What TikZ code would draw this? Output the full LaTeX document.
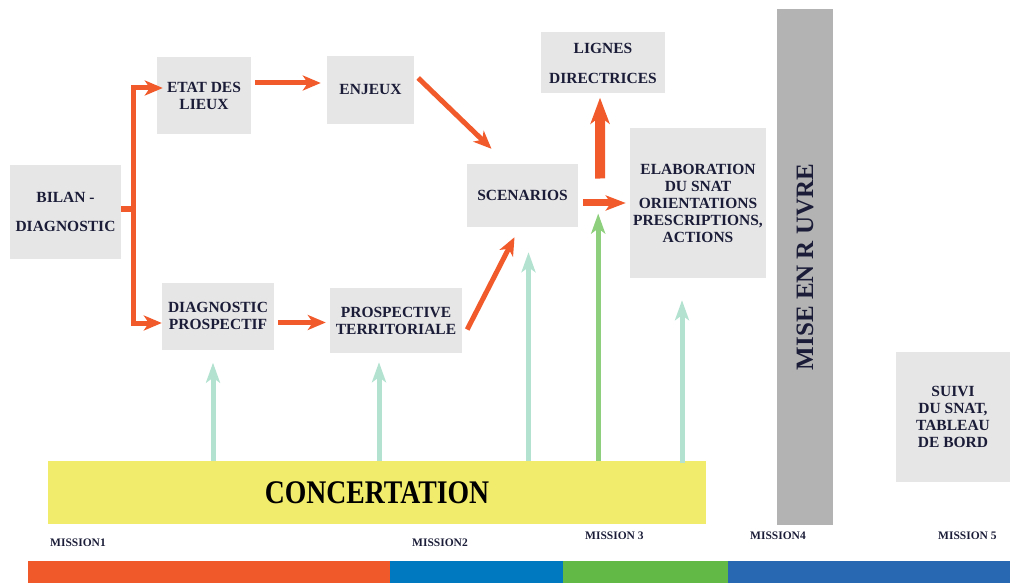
\documentclass[tikz,border=0pt]{standalone}
\usepackage{fontspec}
\setmainfont{Liberation Serif}
\newfontfamily\narrowserif[FakeStretch=0.84]{Liberation Serif}
\usetikzlibrary{arrows.meta}

\definecolor{boxgray}{HTML}{E6E6E6}
\definecolor{bargray}{HTML}{B3B3B3}
\definecolor{inkblue}{HTML}{1B1D38}
\definecolor{flow}{HTML}{F15A2B}
\definecolor{paleflow}{HTML}{B3E2D1}
\definecolor{greenflow}{HTML}{8ECF7D}
\definecolor{concyellow}{HTML}{F1EC6B}
\definecolor{bandorange}{HTML}{F05A2A}
\definecolor{bandblue}{HTML}{0079C1}
\definecolor{bandgreen}{HTML}{62B946}
\definecolor{banddark}{HTML}{2867B2}

\tikzset{
  stagebox/.style={fill=boxgray, inner sep=0pt, align=center, text=inkblue,
    font=\fontsize{15.5}{17}\selectfont\bfseries},
  flowline/.style={draw=flow, line width=5pt},
  flowarrow/.style={flowline, -{Stealth[length=18pt,width=15pt,inset=5pt]}},
  bigarrow/.style={draw=flow, line width=10pt, -{Stealth[length=26pt,width=19pt,inset=7pt]}},
  midarrow/.style={draw=flow, line width=7pt, -{Stealth[length=20pt,width=15pt,inset=5pt]}},
  palearrow/.style={draw=paleflow, line width=5pt, -{Stealth[length=20pt,width=14pt,inset=5pt]}},
  greenarrow/.style={draw=greenflow, line width=5pt, -{Stealth[length=20pt,width=14pt,inset=5pt]}},
  missionlabel/.style={anchor=west, inner sep=0pt, text=inkblue,
    font=\fontsize{11.5}{12}\selectfont\bfseries}
}

\begin{document}
\begin{tikzpicture}[x=1pt, y=-1pt]
\useasboundingbox (0,0) rectangle (1010,583);

% stage boxes
\node[stagebox, minimum width=111pt, minimum height=94pt] (bilan) at (65.5,212) {BILAN -\\[12pt]DIAGNOSTIC};
\node[stagebox, minimum width=94pt, minimum height=77pt] (etat) at (204,95.5) {ETAT DES\\LIEUX};
\node[stagebox, minimum width=87pt, minimum height=68pt] (enjeux) at (370.5,90) {ENJEUX};
\node[stagebox, minimum width=112pt, minimum height=67pt] (diag) at (218,316) {DIAGNOSTIC\\PROSPECTIF};
\node[stagebox, minimum width=132pt, minimum height=65pt] (pterr) at (396,320.5) {PROSPECTIVE\\TERRITORIALE};
\node[stagebox, minimum width=111pt, minimum height=63pt] (scen) at (522.5,195.5) {SCENARIOS};
\node[stagebox, minimum width=124pt, minimum height=61pt] (lignes) at (603,63) {LIGNES\\[13pt]DIRECTRICES};
\node[stagebox, minimum width=136pt, minimum height=150pt] (elab) at (698,203)
  {ELABORATION\\DU SNAT\\ORIENTATIONS\\PRESCRIPTIONS,\\ACTIONS};
\node[stagebox, minimum width=114pt, minimum height=130pt] (suivi) at (953,417)
  {SUIVI\\DU SNAT,\\TABLEAU\\DE BORD};

% implementation bar
\node[fill=bargray, rotate=90, minimum width=516pt, minimum height=56pt, inner sep=0pt,
  text=inkblue, font=\fontsize{25}{25}\selectfont\bfseries] (mise) at (805,267) {MISE EN R UVRE};

% consultation band
\node[fill=concyellow, minimum width=658pt, minimum height=63pt, inner sep=0pt,
  font=\narrowserif\fontsize{33}{33}\selectfont\bfseries] (conc) at (377,492.5) {CONCERTATION};

% mission labels
\node[missionlabel] (m1) at (50,543) {MISSION1};
\node[missionlabel] (m2) at (412,543) {MISSION2};
\node[missionlabel] (m3) at (585,536) {MISSION 3};
\node[missionlabel] (m4) at (750,536) {MISSION4};
\node[missionlabel] (m5) at (938,536) {MISSION 5};

% coloured timeline
\fill[bandorange] (28,561) rectangle (390,583);
\fill[bandblue] (390,561) rectangle (563,583);
\fill[bandgreen] (563,561) rectangle (728,583);
\fill[banddark] (728,561) rectangle (1010,583);

% main flow
\coordinate (fork) at ([xshift=12pt,yshift=3pt]bilan.east);
\draw[flowline, line cap=rect] ([xshift=2.5pt,yshift=3pt]bilan.east) -- (fork);
\draw[flowarrow] (fork) |- ([yshift=7.5pt,xshift=6pt]etat.west);
\draw[flowarrow] (fork) |- ([yshift=-7pt]diag.west);
\draw[flowarrow] ([xshift=4pt,yshift=12.5pt]etat.east) -- ([xshift=-6pt,yshift=12.5pt]etat.east -| enjeux.west);
\draw[flowarrow] ([xshift=4pt,yshift=12pt]enjeux.east) -- ([xshift=-31pt,yshift=15pt]scen.north);
\draw[flowarrow] ([xshift=4pt,yshift=-6.5pt]diag.east) -- ([xshift=-4pt,yshift=-6.5pt]diag.east -| pterr.west);
\draw[flowarrow] ([xshift=5pt,yshift=-9pt]pterr.east) -- ([xshift=-8pt,yshift=-10pt]scen.south);
\draw[midarrow] ([xshift=5pt,yshift=-7.5pt]scen.east) -- ([xshift=-4pt,yshift=-7.5pt]scen.east -| elab.west);
\draw[bigarrow] ([xshift=22pt,yshift=17pt]scen.east) -- ([xshift=-3pt,yshift=-4pt]lignes.south);

% consultation inputs
\coordinate (c1) at ([xshift=-5pt,yshift=-13pt]diag.south);
\coordinate (c2) at ([xshift=-17pt,yshift=-9pt]pterr.south);
\coordinate (c3) at ([xshift=6pt,yshift=-25pt]scen.south);
\coordinate (c4) at ([xshift=20pt,yshift=-18pt]scen.east);
\coordinate (c5) at ([xshift=-16pt,yshift=-22pt]elab.south);
\draw[palearrow] (conc.north -| c1) -- (c1);
\draw[palearrow] (conc.north -| c2) -- (c2);
\draw[palearrow] (conc.north -| c3) -- (c3);
\draw[greenarrow] (conc.north -| c4) -- (c4);
\draw[palearrow] ([yshift=-2pt]conc.north -| c5) -- (c5);
\end{tikzpicture}
\end{document}
